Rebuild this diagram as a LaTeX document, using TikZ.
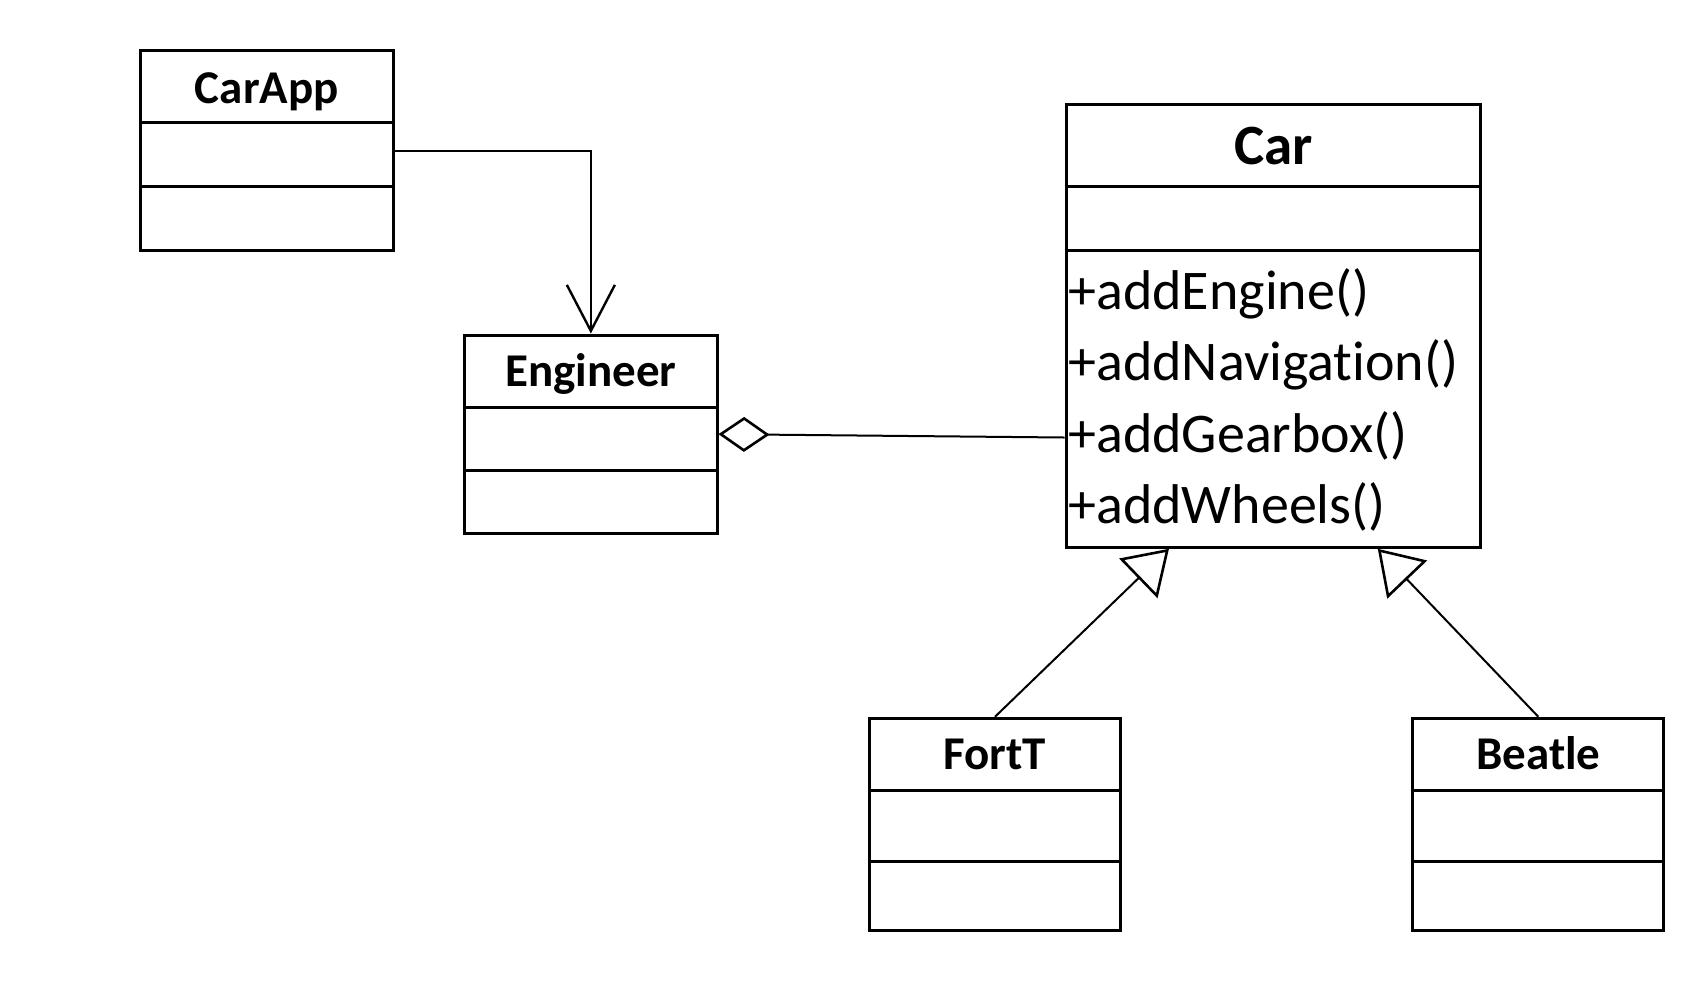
\documentclass[tikz,border=0pt]{standalone}
\usepackage{fontspec}
\setmainfont{Carlito}[Ligatures=NoCommon]
\usetikzlibrary{arrows.meta,calc}
\begin{document}
\begin{tikzpicture}[x=0.5pt,y=-0.5pt,
  box/.style={draw=black,line width=1.5pt,rectangle,inner sep=0pt,fill=white},
  sep/.style={draw=black,line width=1.5pt},
  smalltitle/.style={font=\bfseries\fontsize{23.5pt}{28pt}\selectfont,anchor=base,inner sep=0pt},
  bigtitle/.style={font=\bfseries\fontsize{28.5pt}{34pt}\selectfont,anchor=base,inner sep=0pt},
  method/.style={font=\fontsize{28pt}{34pt}\selectfont,anchor=base west,inner sep=0pt},
  conn/.style={draw=black,line width=1pt},
  dep/.style={conn,-{Straight Barb[length=23pt,width=24pt,line width=1.2pt]}},
  agg/.style={conn,-{Diamond[length=25.5pt,width=17.5pt,fill=white,line width=1.3pt]}},
  gen/.style={conn,-{Triangle[length=21.3pt,width=27.4pt,fill=white,line width=1.3pt]}}
]
\fill[white] (0,0) rectangle (1706,986);
\useasboundingbox (0,0) rectangle (1706,986);

% CarApp
\node[box,minimum width=126.15pt,minimum height=100pt] (carapp) at (266.85,150.7) {};
\draw[sep] (carapp.west |- 0,122.7) -- (carapp.east |- 0,122.7);
\draw[sep] (carapp.west |- 0,186.7) -- (carapp.east |- 0,186.7);
\node[smalltitle] (carappT) at (266.85,103.3) {CarApp};

% Engineer
\node[box,minimum width=126.15pt,minimum height=99.15pt] (eng) at (590.85,434.15) {};
\draw[sep] (eng.west |- 0,407.3) -- (eng.east |- 0,407.3);
\draw[sep] (eng.west |- 0,470.7) -- (eng.east |- 0,470.7);
\node[smalltitle] (engT) at (590.85,386.7) {Engineer};

% Car
\node[box,minimum width=207.35pt,minimum height=221.65pt] (car) at (1273.35,325.65) {};
\draw[sep] (car.west |- 0,186.7) -- (car.east |- 0,186.7);
\draw[sep] (car.west |- 0,250.7) -- (car.east |- 0,250.7);
\node[bigtitle] (carT) at (1273.35,164) {Car};
\node[method] (m1) at (1068,309) {+addEngine()};
\node[method] (m2) at (1068,380.5) {+addNavigation()};
\node[method] (m3) at (1068,452) {+addGearbox()};
\node[method] (m4) at (1068,523.3) {+addWheels()};

% FortT
\node[box,minimum width=125.55pt,minimum height=105.85pt] (fort) at (994.95,824.15) {};
\draw[sep] (fort.west |- 0,790) -- (fort.east |- 0,790);
\draw[sep] (fort.west |- 0,861) -- (fort.east |- 0,861);
\node[smalltitle] (fortT) at (994.95,769.3) {FortT};

% Beatle
\node[box,minimum width=125.55pt,minimum height=105.85pt] (beatle) at (1538.35,824.15) {};
\draw[sep] (beatle.west |- 0,790) -- (beatle.east |- 0,790);
\draw[sep] (beatle.west |- 0,861) -- (beatle.east |- 0,861);
\node[smalltitle] (beatleT) at (1538.35,769.3) {Beatle};

% connectors
\coordinate (appout) at (carapp.east |- 0,150.7);
\draw[dep] (appout) -| (eng.north);

\coordinate (carport) at (car.west |- 0,437.5);
\draw[agg] (carport) -- (eng.east);

\coordinate (g1) at ($(car.south west)!0.25!(car.south east)$);
\coordinate (g2) at ($(car.south west)!0.75!(car.south east)$);
\draw[gen] (fort.north) -- (g1);
\draw[gen] (beatle.north) -- (g2);
\end{tikzpicture}
\end{document}
